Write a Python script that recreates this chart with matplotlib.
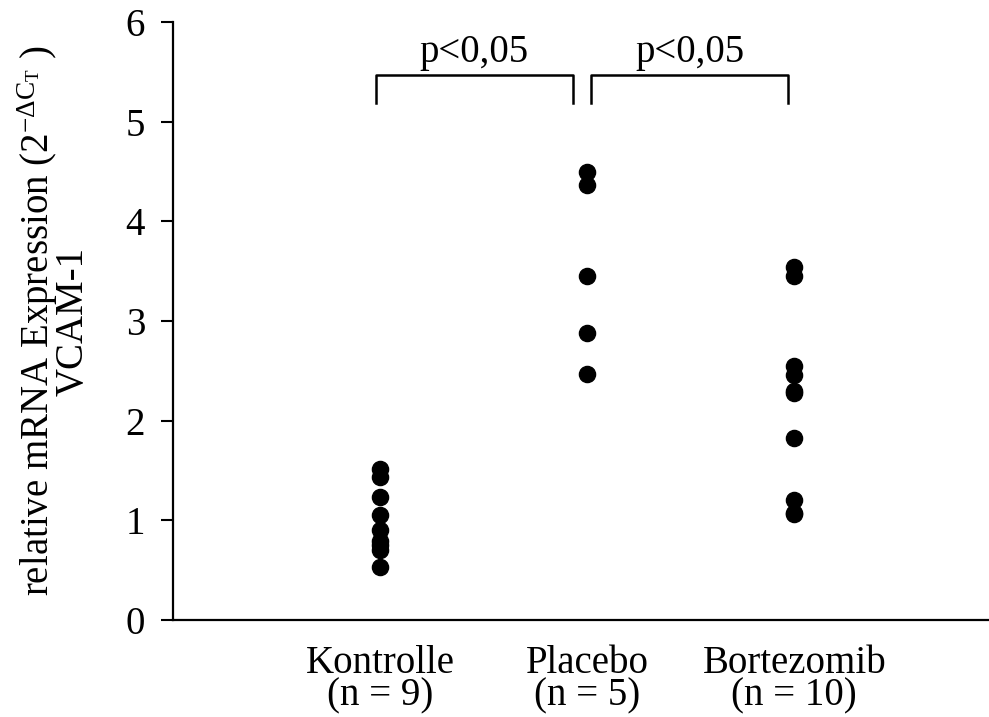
import matplotlib
matplotlib.use("Agg")
import matplotlib.pyplot as plt

plt.rcParams['font.family'] = ['Liberation Serif', 'DejaVu Serif']
plt.rcParams['mathtext.fontset'] = 'custom'
plt.rcParams['mathtext.rm'] = 'Liberation Serif'
plt.rcParams['mathtext.it'] = 'Liberation Serif'

categories = ["Kontrolle\n(n = 9)", "Placebo\n(n = 5)", "Bortezomib\n(n = 10)"]
kontrolle = [1.52, 1.43, 1.23, 1.05, 0.90, 0.79, 0.75, 0.70, 0.53]
placebo = [4.49, 4.36, 3.45, 2.88, 2.47]
bortezomib = [3.54, 3.45, 2.55, 2.46, 2.30, 2.28, 1.83, 1.20, 1.07, 1.06]
groups = [kontrolle, placebo, bortezomib]
brackets = [(1, 2, "p<0,05"), (2, 3, "p<0,05")]
yticks = [0, 1, 2, 3, 4, 5, 6]

FS = 28

fig = plt.figure(figsize=(9.89, 7.17), dpi=100)
ax = fig.add_axes([173/989, (717-620)/717, (989-173)/989, (620-22)/717])

for i, vals in enumerate(groups):
    ax.scatter([i + 1] * len(vals), vals, s=135, color='black', zorder=3, clip_on=False)

ax.set_xlim(0, 3.94)
ax.set_ylim(0, 6)
ax.set_yticks(yticks)
ax.set_yticklabels([str(t) for t in yticks], fontsize=FS)
ax.set_xticks([1, 2, 3])
ax.set_xticklabels(categories, fontsize=FS, linespacing=0.85)
ax.tick_params(axis='x', length=0, pad=18)
ax.tick_params(axis='y', length=9, width=1.5, direction='out', pad=11)
for s in ['top', 'right']:
    ax.spines[s].set_visible(False)
for s in ['left', 'bottom']:
    ax.spines[s].set_linewidth(1.6)

for (a, b, txt), (x0, x1) in zip(brackets, [(0.98, 1.93), (2.02, 2.97)]):
    ax.plot([x0, x0, x1, x1], [5.19, 5.47, 5.47, 5.19], color='black', lw=1.8, clip_on=False)
    ax.text((x0 + x1) / 2, 5.51, txt, ha='center', va='bottom', fontsize=FS)

ax.set_ylabel('relative mRNA Expression ($\\mathregular{2^{-\\Delta C_T}}$ )\nVCAM-1',
              fontsize=FS, linespacing=0.82)
ax.yaxis.set_label_coords((92 - 173) / 816, 0.5)

fig.savefig("out.png", dpi=100)
